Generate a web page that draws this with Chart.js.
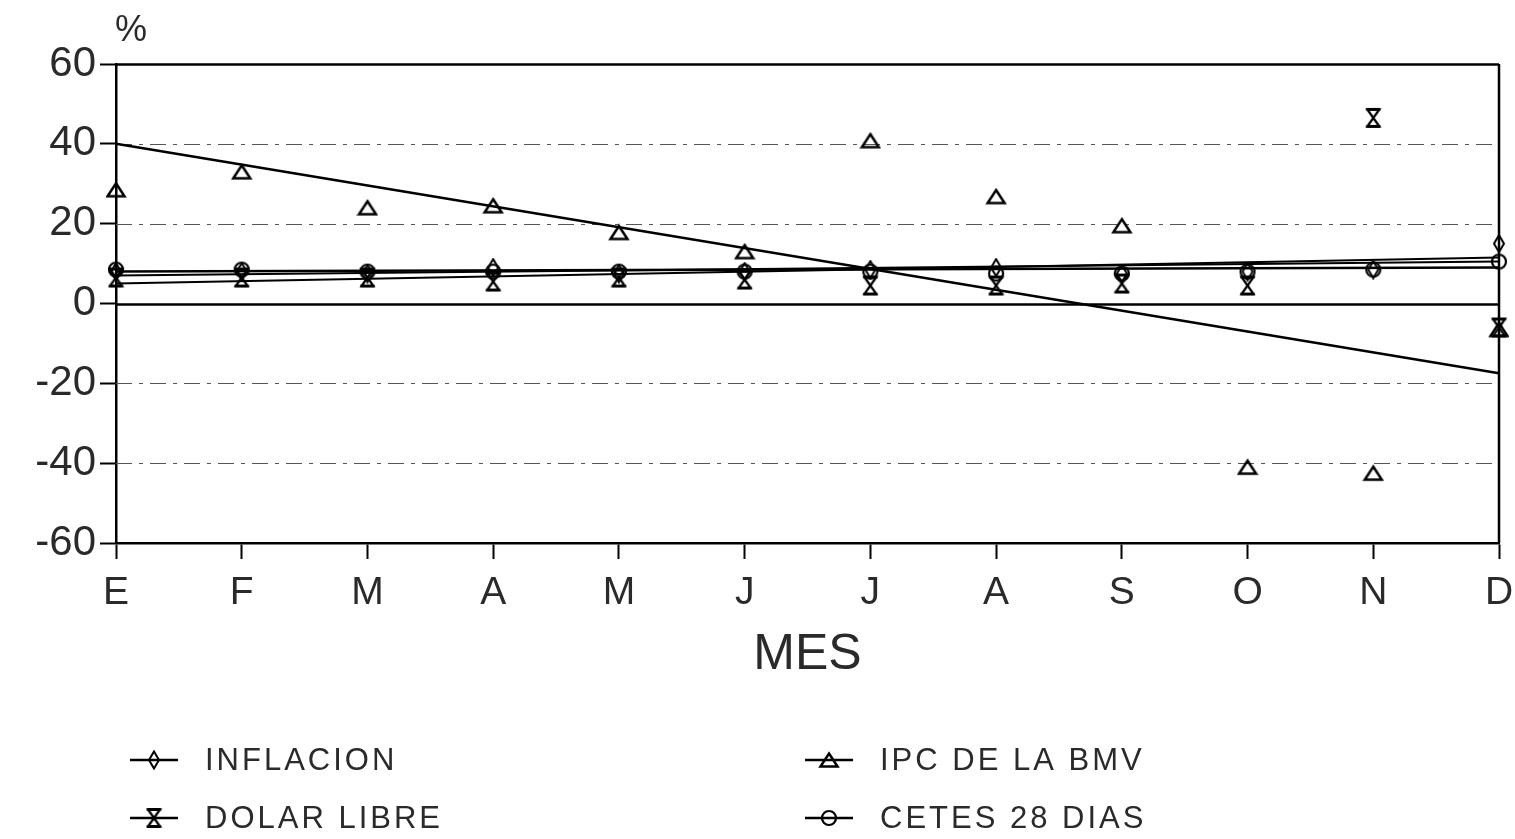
<!DOCTYPE html>
<html>
<head>
<meta charset="utf-8">
<script src="https://cdn.jsdelivr.net/npm/chart.js@4/dist/chart.umd.min.js"></script>
<style>
    html, body { margin: 0; padding: 0; background: #fff; }
    #chart { display: block; }
</style>
</head>
<body>
<canvas id="chart" width="1515" height="839"></canvas>
<script>
// Meses (eje X)
const months = ['E', 'F', 'M', 'A', 'M', 'J', 'J', 'A', 'S', 'O', 'N', 'D'];
const yTicks = [-60, -40, -20, 0, 20, 40, 60];

// Valores (%)
const inflacion = [8, 8, 7.5, 9, 7.5, 8, 8.5, 9, 7.5, 8, 8.5, 15];
const ipcBmv = [28.5, 33, 24, 24.5, 17.8, 13, 40.8, 26.8, 19.5, -41, -42.5, -6.5];
const dolarLibre = [6.5, 6.5, 6.5, 5.5, 6.5, 6, 4.5, 4.5, 5, 4.5, 46.5, -6];
const cetes28 = [8.5, 8.5, 8, 8, 8, 8, 8, 7.5, 7.5, 8, 8.5, 10.5];

// Líneas de tendencia: valor en E y en D
const inflacionTrend = [7, 10.5];
const ipcTrend = [40, -17.5];
const dolarTrend = [5, 11.5];
const cetesTrend = [8, 9];

const FONT = '"Liberation Sans", Arial, sans-serif';
const TEXT = '#2a2a2a';

// Marcadores dibujados a mano
function makeMarker(w, h, draw) {
    const c = document.createElement('canvas');
    c.width = w; c.height = h;
    const ctx = c.getContext('2d');
    ctx.strokeStyle = '#000';
    ctx.lineWidth = 2;
    ctx.lineJoin = 'miter';
    draw(ctx, w, h);
    return c;
}

const diamondMarker = makeMarker(14, 20, (ctx, w, h) => {
    ctx.beginPath();
    ctx.moveTo(w / 2, 1.5); ctx.lineTo(w - 2, h / 2); ctx.lineTo(w / 2, h - 1.5); ctx.lineTo(2, h / 2);
    ctx.closePath();
    ctx.stroke();
});
const triangleMarker = makeMarker(22, 18, (ctx, w, h) => {
    ctx.lineWidth = 2.5;
    ctx.beginPath();
    ctx.moveTo(w / 2, 2.5); ctx.lineTo(w - 2.5, h - 2.5); ctx.lineTo(2.5, h - 2.5);
    ctx.closePath();
    ctx.stroke();
});
const hourglassMarker = makeMarker(17, 22, (ctx, w, h) => {
    ctx.lineWidth = 2.2;
    ctx.beginPath();
    ctx.moveTo(2.5, 2.5); ctx.lineTo(w - 2.5, 2.5); ctx.lineTo(2.5, h - 2.5); ctx.lineTo(w - 2.5, h - 2.5);
    ctx.closePath();
    ctx.stroke();
    ctx.lineWidth = 3;
    ctx.beginPath();
    ctx.moveTo(1.5, 2.5); ctx.lineTo(w - 1.5, 2.5);
    ctx.moveTo(1.5, h - 2.5); ctx.lineTo(w - 1.5, h - 2.5);
    ctx.stroke();
});
const circleMarker = makeMarker(18, 18, (ctx, w, h) => {
    ctx.lineWidth = 2.2;
    ctx.beginPath();
    ctx.arc(w / 2, h / 2, 7, 0, Math.PI * 2);
    ctx.stroke();
});

function trendData(ends) {
    return months.map((m, i) => i === 0 ? ends[0] : (i === months.length - 1 ? ends[1] : null));
}

function pointsSet(label, data, marker) {
    return {
        label: label,
        data: data,
        showLine: false,
        pointStyle: marker,
        pointRadius: 9,
        borderColor: '#000',
        backgroundColor: 'transparent'
    };
}

function trendSet(label, ends, width) {
    return {
        label: label,
        data: trendData(ends),
        spanGaps: true,
        pointRadius: 0,
        borderColor: '#000',
        borderWidth: width,
        tension: 0
    };
}

const legendItems = [
    { text: 'INFLACION', marker: diamondMarker, x: 130, y: 760 },
    { text: 'IPC DE LA BMV', marker: triangleMarker, x: 805, y: 760 },
    { text: 'DOLAR LIBRE', marker: hourglassMarker, x: 130, y: 818 },
    { text: 'CETES 28 DIAS', marker: circleMarker, x: 805, y: 818 }
];

// Rejilla punteada, marco y textos extra
const decorPlugin = {
    id: 'decor',
    beforeDatasetsDraw(chart) {
        const { ctx, chartArea, scales } = chart;
        const y = scales.y;
        ctx.save();
        yTicks.forEach(v => {
            const py = Math.round(y.getPixelForValue(v)) + 0.5;
            if (v === -60) return;
            ctx.beginPath();
            if (v === 0 || v === 60) {
                ctx.setLineDash([]);
                ctx.strokeStyle = '#000';
                ctx.lineWidth = 2.5;
            } else {
                ctx.setLineDash([16, 7, 4, 7]);
                ctx.strokeStyle = '#555';
                ctx.lineWidth = 1.2;
            }
            ctx.moveTo(chartArea.left, py);
            ctx.lineTo(chartArea.right, py);
            ctx.stroke();
        });
        // borde derecho
        ctx.setLineDash([]);
        ctx.strokeStyle = '#000';
        ctx.lineWidth = 2.5;
        ctx.beginPath();
        ctx.moveTo(chartArea.right, chartArea.top);
        ctx.lineTo(chartArea.right, chartArea.bottom);
        ctx.stroke();
        ctx.restore();
    },
    afterDraw(chart) {
        const { ctx } = chart;
        ctx.save();
        ctx.fillStyle = TEXT;
        ctx.textBaseline = 'middle';
        ctx.font = '36px ' + FONT;
        ctx.textAlign = 'left';
        ctx.fillText('%', 115, 31);

        ctx.font = '31px ' + FONT;
        ctx.letterSpacing = '3px';
        legendItems.forEach(it => {
            ctx.strokeStyle = '#000';
            ctx.lineWidth = 2.5;
            ctx.beginPath();
            ctx.moveTo(it.x, it.y);
            ctx.lineTo(it.x + 48, it.y);
            ctx.stroke();
            const m = it.marker;
            ctx.drawImage(m, it.x + 24 - m.width / 2, it.y - m.height / 2);
            ctx.fillText(it.text, it.x + 75, it.y + 1);
        });
        ctx.restore();
    }
};

new Chart(document.getElementById('chart'), {
    type: 'line',
    data: {
        labels: months,
        datasets: [
            trendSet('Tendencia IPC', ipcTrend, 2.5),
            trendSet('Tendencia inflación', inflacionTrend, 2),
            trendSet('Tendencia dólar', dolarTrend, 2),
            trendSet('Tendencia cetes', cetesTrend, 2.5),
            pointsSet('INFLACION', inflacion, diamondMarker),
            pointsSet('IPC DE LA BMV', ipcBmv, triangleMarker),
            pointsSet('DOLAR LIBRE', dolarLibre, hourglassMarker),
            pointsSet('CETES 28 DIAS', cetes28, circleMarker)
        ]
    },
    options: {
        responsive: false,
        animation: false,
        layout: { padding: { top: 64, right: 16, left: 0, bottom: 154 } },
        plugins: {
            legend: { display: false },
            tooltip: { enabled: false }
        },
        scales: {
            x: {
                offset: false,
                grid: { drawOnChartArea: false, drawTicks: true, tickLength: 16, tickColor: '#000', tickWidth: 2 },
                border: { display: true, color: '#000', width: 2.5 },
                ticks: { color: TEXT, font: { family: FONT, size: 39 }, padding: 11, maxRotation: 0, autoSkip: false },
                title: { display: true, text: 'MES', color: TEXT, font: { family: FONT, size: 50 }, padding: { top: 0, bottom: 0 } },
                afterFit: (s) => { s.height = 142; s.paddingRight = 0; }
            },
            y: {
                min: -60,
                max: 60,
                grid: { drawOnChartArea: false, drawTicks: true, tickLength: 16, tickColor: '#000', tickWidth: 2 },
                border: { display: true, color: '#000', width: 2.5 },
                ticks: { stepSize: 20, color: TEXT, font: { family: FONT, size: 42 }, padding: 4 },
                afterFit: (s) => { s.width = 116; }
            }
        }
    },
    plugins: [decorPlugin]
});
</script>
</body>
</html>
